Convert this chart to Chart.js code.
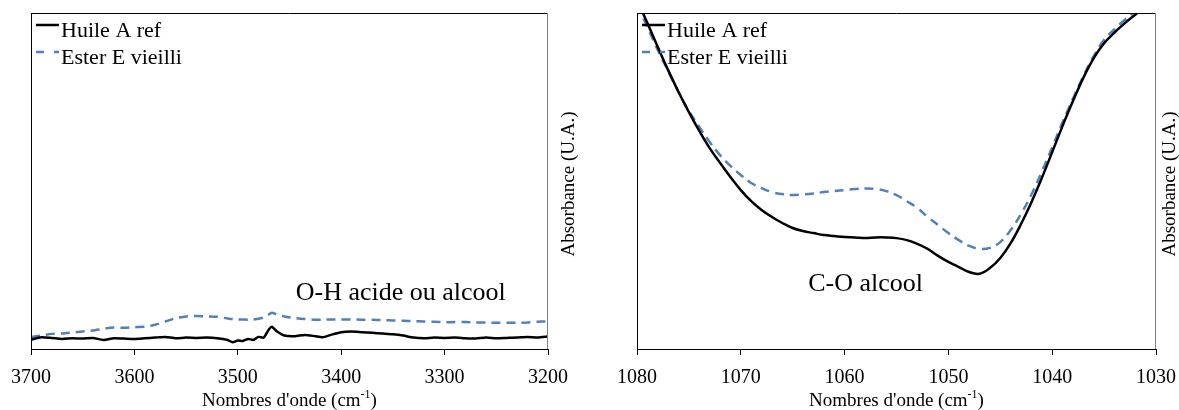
<!DOCTYPE html>
<html>
<head>
<meta charset="utf-8">
<script src="https://cdn.jsdelivr.net/npm/chart.js@4.4.0/dist/chart.umd.min.js"></script>
<style>
  body { margin: 0; background: #fff; overflow: hidden; }
  .panel { position: absolute; top: 0; height: 410px; }
  #left { left: 0; width: 590px; }
  #right { left: 590px; width: 600px; }
</style>
</head>
<body>
<div class="panel" id="left"><canvas id="ohChart"></canvas></div>
<div class="panel" id="right"><canvas id="coChart"></canvas></div>
<script>
// O-H region (left)
const ohWavenumbers = [3700,3690,3680,3670,3660,3650,3640,3630,3620,3610,3600,3590,3580,3570,3560,3550,3540,3530,3520,3510,3505,3500,3495,3490,3485,3480,3475,3470,3467,3462,3455,3445,3435,3425,3418,3410,3400,3390,3380,3370,3360,3350,3340,3330,3320,3310,3300,3290,3280,3270,3260,3250,3240,3230,3220,3210,3200];
const ohHuile = [.028,.035,.033,.030,.032,.031,.033,.027,.032,.031,.030,.032,.034,.036,.032,.034,.033,.034,.032,.027,.020,.025,.024,.030,.027,.036,.034,.058,.066,.052,.040,.038,.042,.038,.035,.042,.050,.052,.050,.048,.046,.044,.040,.034,.032,.034,.033,.034,.032,.031,.034,.032,.033,.034,.036,.034,.037];
const ohEster = [.036,.040,.045,.046,.049,.052,.055,.060,.064,.063,.065,.066,.072,.082,.092,.097,.098,.097,.096,.091,.089,.088,.088,.087,.088,.090,.094,.103,.108,.102,.097,.092,.089,.087,.087,.088,.088,.088,.087,.087,.086,.085,.084,.083,.082,.081,.080,.080,.080,.079,.079,.078,.078,.078,.079,.081,.082];

// C-O region (right)
const coWavenumbers = [1080,1079,1078,1077,1076,1075,1074,1073,1072,1071,1070,1069,1068,1067,1066,1065,1064,1063,1062,1061,1060,1059,1058,1057,1056,1055,1054,1053,1052,1051,1050,1049,1048,1047,1046,1045,1044,1043,1042,1041,1040,1039,1038,1037,1036,1035,1034,1033,1032,1031,1030];
const coHuile = [1.039,.970,.899,.830,.765,.705,.649,.598,.554,.512,.473,.440,.414,.393,.375,.360,.351,.345,.339,.336,.333,.332,.330,.332,.332,.330,.324,.313,.298,.277,.259,.244,.229,.224,.241,.271,.315,.372,.437,.509,.586,.664,.738,.807,.866,.910,.942,.970,.995,1.02,1.05];
const coEster = [1.024,.958,.890,.827,.765,.708,.661,.616,.577,.545,.518,.494,.479,.467,.461,.458,.460,.463,.467,.470,.473,.476,.478,.476,.470,.458,.440,.420,.393,.369,.345,.324,.307,.298,.301,.318,.354,.402,.460,.528,.600,.675,.745,.812,.872,.920,.952,.980,1.005,1.03,1.06];

const seriesNames = ["Huile A ref", "Ester E vieilli"];
const yTitle = "Absorbance (U.A.)";
const xTitle = ["Nombres d'onde (cm", "-1", ")"];
const serif = '"Liberation Serif", "Times New Roman", serif';

function pts(xs, ys) {
  return xs.map((x, i) => ({ x: x, y: ys[i] }));
}

function hline(ctx, x1, y1, x2, y2) {
  ctx.beginPath();
  ctx.moveTo(x1, y1);
  ctx.lineTo(x2, y2);
  ctx.stroke();
}

const decor = {
  id: 'decor',
  afterDatasetsDraw(chart, args, o) {
    const { ctx, chartArea: a, scales: { x, y } } = chart;
    ctx.save();

    // frame
    ctx.lineWidth = 1;
    ctx.strokeStyle = '#000';
    hline(ctx, a.left, a.top + 0.5, a.right, a.top + 0.5);
    hline(ctx, a.left + 0.5, a.top, a.left + 0.5, a.bottom + 6);
    ctx.strokeStyle = '#808080';
    hline(ctx, a.right - 0.5, a.top, a.right - 0.5, a.bottom);

    // legend inside plot
    ctx.font = '22px ' + serif;
    ctx.textAlign = 'left';
    ctx.textBaseline = 'alphabetic';
    chart.data.datasets.forEach((ds, i) => {
      const yy = a.top + 12 + i * 27;
      ctx.strokeStyle = ds.borderColor;
      ctx.lineWidth = 2.5;
      ctx.setLineDash(i ? [8, 10] : []);
      hline(ctx, a.left + 5, yy, a.left + 28, yy);
      ctx.setLineDash([]);
      ctx.fillStyle = '#000';
      ctx.fillText(ds.label, a.left + 30, yy + 12);
    });

    // band annotation
    ctx.font = '26px ' + serif;
    ctx.fillText(o.note, x.getPixelForValue(o.noteX), y.getPixelForValue(o.noteY));

    // y title (right side, reading upward)
    ctx.save();
    ctx.translate(a.right + o.yTitleOffset, (a.top + a.bottom) / 2 + 3);
    ctx.rotate(-Math.PI / 2);
    ctx.font = '19px ' + serif;
    ctx.textAlign = 'center';
    ctx.textBaseline = 'middle';
    ctx.fillText(yTitle, 0, 0);
    ctx.restore();

    // x title with superscript
    ctx.font = '19px ' + serif;
    const w0 = ctx.measureText(xTitle[0]).width;
    const w2 = ctx.measureText(xTitle[2]).width;
    ctx.font = '12px ' + serif;
    const w1 = ctx.measureText(xTitle[1]).width;
    let tx = (a.left + a.right) / 2 - (w0 + w1 + w2) / 2;
    const ty = 406;
    ctx.font = '19px ' + serif;
    ctx.fillText(xTitle[0], tx, ty);
    tx += w0;
    ctx.font = '12px ' + serif;
    ctx.fillText(xTitle[1], tx, ty - 8);
    tx += w1;
    ctx.font = '19px ' + serif;
    ctx.fillText(xTitle[2], tx, ty);

    ctx.restore();
  }
};

function makeChart(id, xs, huile, ester, xmin, xmax, step, pad, decorOpts, tension) {
  return new Chart(document.getElementById(id), {
    type: 'line',
    data: {
      datasets: [
        {
          label: seriesNames[0],
          data: pts(xs, huile),
          borderColor: '#000000',
          borderWidth: 2.5,
          pointRadius: 0,
          tension: tension,
          fill: false,
        },
        {
          label: seriesNames[1],
          data: pts(xs, ester),
          borderColor: '#4f81bd',
          borderWidth: 2.5,
          borderDash: [9, 6],
          pointRadius: 0,
          tension: tension,
          fill: false,
        },
      ],
    },
    options: {
      animation: false,
      responsive: true,
      maintainAspectRatio: false,
      layout: { padding: { left: pad[0], right: pad[1], top: 13, bottom: 0 } },
      plugins: {
        legend: { display: false },
        tooltip: { enabled: false },
        decor: decorOpts,
      },
      scales: {
        x: {
          type: 'linear',
          reverse: true,
          min: xmin,
          max: xmax,
          afterFit: (s) => { s.height = 61; },
          ticks: {
            stepSize: step,
            padding: 11,
            maxRotation: 0,
            autoSkip: false,
            color: '#000',
            font: { family: serif, size: 20 },
            callback: (v) => String(v),
          },
          grid: {
            display: true,
            drawOnChartArea: false,
            drawTicks: true,
            tickLength: 6,
            color: '#000',
            lineWidth: 1,
          },
          border: { display: true, color: '#000', width: 1 },
        },
        y: { display: false, min: 0, max: 1 },
      },
    },
    plugins: [decor],
  });
}

makeChart('ohChart', ohWavenumbers, ohHuile, ohEster, 3200, 3700, 100, [29, 42],
  { note: 'O-H acide ou alcool', noteX: 3444, noteY: 0.146, yTitleOffset: 21 }, 0.2);

makeChart('coChart', coWavenumbers, coHuile, coEster, 1030, 1080, 10, [47, 34],
  { note: 'C-O alcool', noteX: 1063.5, noteY: 0.173, yTitleOffset: 14 }, 0.4);
</script>
</body>
</html>
